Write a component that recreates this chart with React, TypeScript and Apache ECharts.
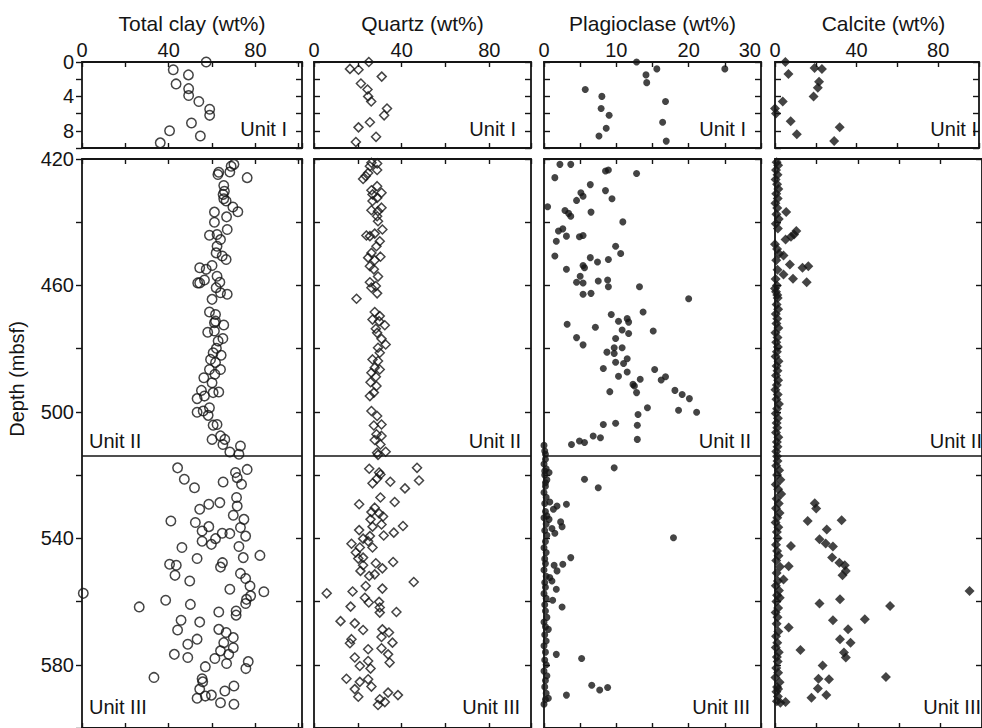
import React, { useEffect, useRef } from "react";
import * as echarts from "echarts";

// ---------- DATA: [wt%, depth (mbsf)] ----------
const clayUnitI: number[][] = [
  [57.3, 0.0], [42.1, 0.9], [49.1, 1.5], [43.4, 2.55], [49.2, 3.1], [49.2, 3.9], [53.9, 4.6],
  [58.9, 5.5], [58.9, 6.2], [50.5, 7.1], [40.4, 8.0], [54.6, 8.6], [36.1, 9.4],
];
const clayUnitII: number[][] = [
  [70.1, 421.7], [68.8, 422.3], [63.1, 424.2], [62.7, 424.9], [68.2, 424.1], [76.2, 425.9], [65.4, 428.4],
  [65.7, 430.2], [65.1, 431.2], [65.4, 432.6], [66.5, 433.3], [69.6, 435.2], [71.9, 436.7], [61.1, 436.8],
  [66.7, 438.3], [61.1, 440.0], [67.0, 442.3], [58.8, 444.1], [62.3, 443.9], [63.9, 445.5], [62.3, 447.6],
  [61.9, 449.7], [64.7, 450.7], [66.5, 451.8], [54.3, 454.4], [57.3, 454.9], [60.0, 453.7], [56.5, 458.3],
  [53.4, 459.2], [54.3, 459.2], [62.3, 457.1], [63.6, 459.0], [61.9, 460.7], [63.9, 462.3], [67.0, 462.8],
  [60.0, 464.4], [58.8, 468.4], [61.6, 469.2], [61.6, 471.3], [65.4, 472.5], [61.1, 471.8], [58.0, 474.8],
  [61.1, 474.4], [65.0, 476.8], [62.8, 477.6], [62.0, 479.9], [60.5, 481.3], [64.2, 482.1], [59.3, 483.4],
  [61.6, 484.4], [63.9, 486.6], [58.8, 486.6], [56.2, 489.2], [61.3, 488.1], [60.0, 490.8], [63.1, 493.7],
  [55.1, 493.2], [53.1, 495.8], [56.5, 495.0], [60.5, 493.9], [53.1, 500.1], [55.9, 499.7], [58.8, 498.7],
  [58.2, 501.1], [60.5, 504.2], [62.3, 504.0], [60.0, 508.7], [63.9, 507.6], [65.9, 508.7], [65.0, 510.3],
  [73.1, 510.8], [68.2, 512.7], [72.4, 513.4],
];
const clayUnitIII: number[][] = [
  [44.1, 517.7], [47.2, 521.3], [51.9, 524.0], [65.1, 522.2], [70.8, 519.2], [71.6, 520.8], [73.6, 522.9],
  [76.2, 518.2], [71.3, 527.1], [71.6, 529.8], [63.6, 528.7], [58.5, 529.2], [54.3, 530.8], [41.0, 534.5],
  [52.3, 535.0], [58.5, 536.3], [55.4, 537.7], [69.8, 532.7], [74.7, 534.0], [73.1, 536.6], [64.7, 538.4],
  [68.2, 538.5], [75.5, 539.3], [61.6, 540.1], [55.4, 540.9], [59.7, 541.9], [46.1, 542.9], [72.4, 542.6],
  [82.1, 545.4], [74.4, 546.1], [53.1, 546.4], [40.4, 548.2], [43.5, 548.5], [42.9, 551.7], [64.8, 547.7],
  [63.9, 549.1], [49.7, 553.5], [73.1, 551.1], [75.5, 552.7], [77.5, 555.1], [68.2, 556.1], [0.6, 557.4],
  [83.9, 556.9], [77.8, 558.2], [75.9, 559.3], [75.5, 560.6], [26.4, 561.7], [38.6, 559.6], [50.0, 560.9],
  [63.1, 563.3], [71.1, 563.0], [71.1, 564.3], [45.7, 565.9], [44.1, 569.0], [54.3, 566.5], [63.1, 568.8],
  [66.5, 569.8], [69.8, 571.4], [53.1, 571.9], [48.8, 573.5], [65.4, 573.0], [42.6, 576.7], [48.8, 577.7],
  [63.9, 575.6], [69.8, 574.6], [67.7, 576.7], [61.3, 578.0], [66.7, 579.6], [56.9, 580.6], [76.7, 579.0],
  [75.6, 581.2], [33.2, 584.0], [55.4, 584.4], [55.7, 585.4], [65.9, 588.3], [70.1, 586.7], [54.3, 587.7],
  [53.1, 590.6], [56.9, 589.9], [59.7, 589.6], [63.9, 592.0], [70.1, 592.5],
];

const quartzUnitI: number[][] = [
  [25.0, 0.0], [16.4, 0.8], [20.3, 0.9], [30.9, 1.7], [21.4, 2.5], [24.4, 3.2], [24.7, 4.0],
  [26.1, 4.6], [33.3, 5.4], [32.0, 6.2], [25.5, 7.0], [20.3, 7.6], [28.3, 8.7], [19.1, 9.3],
];
const quartzUnitII: number[][] = [
  [26.2, 421.2], [28.8, 421.4], [25.5, 422.3], [28.8, 423.5], [24.7, 424.4], [23.6, 425.4], [22.4, 426.3],
  [28.8, 428.6], [26.2, 429.9], [30.8, 430.7], [26.7, 431.2], [28.8, 432.3], [26.7, 433.3], [30.8, 435.4],
  [26.2, 436.2], [29.2, 436.5], [28.8, 438.1], [29.2, 439.7], [31.2, 442.3], [23.9, 444.2], [25.5, 444.4],
  [27.7, 443.6], [30.0, 446.0], [28.5, 447.6], [26.2, 449.7], [24.7, 451.2], [30.3, 450.9], [27.7, 452.0],
  [25.5, 453.9], [27.3, 454.9], [29.2, 457.2], [25.5, 459.0], [28.2, 460.2], [26.2, 460.7], [28.8, 462.5],
  [19.4, 464.2], [27.7, 468.4], [30.0, 469.7], [26.7, 470.8], [29.7, 471.3], [32.3, 472.6], [28.2, 473.7],
  [28.8, 475.0], [30.8, 476.9], [32.7, 478.7], [29.2, 479.7], [30.0, 481.3], [26.7, 483.4], [29.2, 483.9],
  [27.7, 486.0], [30.0, 486.6], [26.2, 487.6], [28.2, 488.9], [25.8, 490.6], [28.5, 491.8], [25.5, 495.0],
  [27.3, 493.9], [26.2, 499.7], [28.8, 501.3], [30.8, 504.0], [27.3, 504.3], [28.5, 507.1], [30.8, 507.6],
  [27.7, 508.9], [30.3, 510.3], [32.7, 512.6], [28.8, 512.9], [29.2, 513.6],
];
const quartzUnitIII: number[][] = [
  [25.2, 518.0], [47.0, 517.7], [29.7, 519.2], [30.3, 519.8], [28.8, 521.1], [26.7, 522.6], [34.8, 522.1],
  [47.9, 521.7], [41.5, 524.2], [30.3, 527.1], [20.6, 529.2], [36.8, 528.5], [27.7, 530.3], [26.2, 531.7],
  [29.7, 532.1], [31.5, 533.1], [25.8, 534.0], [30.8, 535.6], [26.7, 536.3], [20.6, 537.4], [40.6, 536.1],
  [36.4, 538.2], [31.8, 539.1], [25.5, 539.3], [22.4, 540.1], [24.7, 540.9], [17.1, 541.7], [20.9, 542.9],
  [26.7, 542.9], [19.1, 544.5], [22.4, 546.1], [20.2, 546.4], [28.2, 547.9], [36.1, 547.5], [22.4, 548.5],
  [31.2, 549.5], [21.2, 550.3], [27.7, 551.4], [25.2, 551.9], [45.5, 553.8], [23.6, 555.1], [31.2, 555.9],
  [17.6, 556.8], [5.8, 557.4], [23.2, 558.8], [25.0, 560.3], [29.7, 560.1], [30.0, 561.9], [16.7, 561.6],
  [37.6, 563.3], [30.0, 563.5], [12.1, 566.2], [18.6, 566.9], [22.4, 569.0], [31.2, 568.8], [34.2, 569.8],
  [30.8, 571.2], [35.8, 573.0], [17.1, 571.9], [16.4, 573.2], [24.7, 575.1], [30.8, 574.8], [33.8, 576.7],
  [18.6, 577.7], [24.7, 578.8], [34.5, 579.3], [20.9, 580.4], [25.8, 581.2], [14.8, 584.4], [20.9, 585.4],
  [24.7, 584.6], [26.2, 586.9], [18.6, 587.7], [20.2, 590.1], [33.8, 588.8], [38.3, 589.6], [30.0, 590.9],
  [32.3, 591.8], [29.2, 592.7],
];

const plagUnitI: number[][] = [
  [12.8, 0.0], [15.6, 0.8], [25.0, 0.8], [14.1, 1.5], [14.2, 2.4], [5.7, 3.2], [8.0, 4.0],
  [16.8, 4.6], [7.9, 5.4], [9.0, 6.2], [16.4, 7.0], [8.6, 7.7], [7.6, 8.6], [16.9, 9.2],
];
const plagUnitII: number[][] = [
  [2.2, 421.7], [3.7, 421.7], [1.5, 425.9], [8.5, 423.8], [8.9, 423.5], [12.8, 424.6], [6.4, 428.1],
  [5.1, 430.7], [5.4, 431.8], [4.5, 433.1], [8.5, 430.0], [9.4, 432.6], [0.5, 435.1], [2.9, 436.3],
  [3.4, 437.2], [3.7, 438.1], [6.5, 436.8], [10.9, 439.9], [2.6, 442.1], [2.0, 442.8], [3.1, 444.4],
  [1.7, 446.0], [4.9, 444.6], [5.4, 444.2], [9.9, 447.6], [10.6, 449.9], [1.5, 450.7], [6.4, 451.2],
  [7.4, 452.6], [8.9, 451.8], [5.4, 453.7], [5.6, 454.4], [3.1, 454.9], [5.0, 457.1], [4.5, 459.0],
  [5.4, 459.2], [7.5, 458.6], [8.8, 458.3], [8.9, 460.4], [13.2, 460.4], [5.4, 462.8], [6.5, 462.5],
  [20.0, 464.2], [9.3, 469.2], [13.7, 468.4], [3.2, 472.3], [7.1, 473.2], [10.3, 471.3], [11.5, 470.5],
  [11.7, 471.6], [10.8, 474.1], [11.7, 475.2], [15.1, 474.4], [4.5, 476.5], [5.4, 478.8], [9.9, 476.8],
  [9.7, 479.7], [8.7, 481.1], [10.8, 479.7], [9.7, 481.5], [11.5, 483.2], [11.0, 484.7], [8.2, 486.3],
  [9.9, 484.3], [15.3, 486.6], [11.5, 487.4], [10.3, 488.7], [13.3, 489.7], [12.3, 491.3], [12.5, 491.8],
  [16.2, 489.9], [16.8, 488.9], [9.1, 493.6], [12.8, 493.9], [18.1, 493.2], [19.1, 494.5], [20.1, 495.8],
  [14.3, 498.7], [18.6, 499.5], [21.1, 500.1], [13.0, 500.8], [8.2, 504.0], [9.9, 503.6], [12.9, 504.2],
  [3.8, 510.3], [4.9, 509.2], [5.6, 509.7], [6.8, 507.6], [7.8, 508.2], [12.9, 508.7], [0.0, 510.6],
  [0.1, 512.4], [0.2, 513.4],
];
const plagUnitIII: number[][] = [
  [9.7, 517.7], [5.6, 521.3], [7.5, 524.0], [0.7, 519.2], [0.1, 518.7], [0.2, 522.4], [0.8, 528.5],
  [1.8, 529.8], [3.1, 529.2], [1.3, 530.8], [0.4, 532.9], [0.7, 534.0], [2.3, 534.8], [2.5, 536.3],
  [1.1, 536.9], [1.5, 538.4], [17.9, 539.8], [3.7, 546.1], [2.6, 548.2], [1.4, 548.5], [1.8, 550.3],
  [0.8, 552.4], [1.1, 553.5], [1.7, 556.1], [1.2, 559.6], [2.5, 561.7], [0.6, 568.8], [1.7, 576.7],
  [5.2, 578.0], [6.6, 586.5], [7.7, 588.0], [8.8, 587.2], [3.1, 589.6], [0.6, 590.6],
  [0.2, 515.0], [0.0, 516.5], [0.3, 518.0], [0.1, 520.0], [0.4, 521.5], [0.2, 523.5], [0.0, 525.5],
  [0.3, 527.0], [0.1, 529.0], [0.2, 531.5], [0.0, 533.5], [0.3, 535.5], [0.1, 537.5], [0.4, 539.0],
  [0.2, 541.0], [0.0, 543.0], [0.3, 544.5], [0.1, 546.5], [0.2, 548.0], [0.0, 550.0], [0.3, 552.0],
  [0.1, 554.0], [0.2, 555.5], [0.0, 557.5], [0.3, 559.0], [0.1, 561.0], [0.2, 563.0], [0.4, 565.0],
  [0.0, 566.5], [0.2, 568.0], [0.1, 570.5], [0.3, 572.5], [0.0, 574.0], [0.2, 576.0], [0.1, 578.5],
  [0.3, 580.0], [0.0, 582.0], [0.4, 583.5], [0.2, 585.0], [0.1, 587.0], [0.3, 589.0], [0.2, 591.0],
  [0.0, 592.5],
];

const calciteUnitI: number[][] = [
  [5.1, 0.0], [6.6, 1.4], [19.4, 0.7], [23.0, 0.8], [21.6, 2.3], [21.0, 3.0], [18.9, 4.0],
  [3.8, 4.6], [0.0, 5.4], [0.5, 6.0], [7.7, 6.9], [10.7, 8.4], [31.7, 7.6], [29.0, 9.2],
];
const calciteUnitII: number[][] = [
  [5.4, 436.8], [10.3, 442.8], [9.2, 443.9], [7.7, 444.6], [5.1, 445.5], [4.1, 450.5], [7.2, 453.4],
  [13.3, 454.4], [16.1, 453.9], [4.1, 456.5], [8.7, 457.9], [15.3, 459.0], [0.0, 461.0], [1.1, 463.0],
  [0.8, 421.0], [1.5, 422.0], [0.5, 423.5], [1.2, 425.0], [0.3, 426.5], [1.0, 428.0], [1.6, 429.5],
  [0.6, 431.0], [1.3, 432.5], [0.2, 434.0], [1.1, 435.5], [0.7, 437.5], [1.8, 439.0], [0.4, 440.5],
  [1.4, 442.0], [0.0, 447.0], [1.0, 448.5], [2.0, 450.0], [0.6, 452.0], [1.2, 455.0], [0.3, 458.0],
  [0.9, 460.0], [0.5, 462.0], [1.3, 464.0], [0.8, 466.0], [1.5, 467.5], [0.4, 469.0], [1.1, 470.5],
  [0.7, 472.0], [1.6, 473.5], [0.2, 475.0], [1.2, 476.5], [0.6, 478.0], [1.4, 479.5], [0.9, 481.0],
  [0.3, 482.5], [1.7, 484.0], [0.8, 485.5], [1.2, 487.0], [0.5, 488.5], [1.5, 490.0], [0.9, 491.5],
  [0.2, 493.0], [1.3, 494.5], [0.7, 496.0], [1.9, 497.5], [1.0, 499.0], [0.4, 500.5], [1.4, 502.0],
  [0.8, 503.5], [1.1, 505.0], [0.5, 506.5], [1.6, 508.0], [0.9, 509.5], [1.2, 511.0], [0.6, 512.5],
  [1.0, 514.0],
];
const calciteUnitIII: number[][] = [
  [19.2, 528.9], [19.9, 530.6], [15.8, 534.5], [32.2, 534.3], [25.0, 537.2], [21.5, 540.3], [24.5, 541.6],
  [28.0, 542.6], [7.7, 542.4], [27.6, 546.1], [31.1, 547.7], [33.7, 548.5], [34.2, 550.3], [32.6, 551.7],
  [6.6, 548.8], [4.1, 553.0], [21.5, 560.6], [31.4, 559.3], [2.3, 558.8], [55.6, 561.4], [43.4, 565.6],
  [28.0, 565.9], [35.3, 568.8], [6.6, 568.2], [31.4, 571.9], [36.5, 573.0], [33.3, 576.1], [34.2, 577.7],
  [12.3, 575.3], [94.0, 556.7], [23.0, 580.2], [21.0, 584.4], [26.1, 584.6], [20.7, 587.5], [24.8, 589.6],
  [17.6, 590.4], [53.6, 583.9], [5.1, 591.8], [2.6, 592.0], [1.5, 587.7],
  [1.2, 515.5], [0.6, 517.0], [2.0, 518.5], [1.0, 520.0], [2.6, 521.5], [0.4, 523.0], [1.5, 524.5],
  [3.0, 526.0], [0.8, 527.5], [1.8, 529.0], [0.5, 530.5], [2.2, 532.0], [1.1, 533.5], [0.3, 535.0],
  [1.6, 536.5], [0.9, 538.0], [1.3, 540.0], [0.5, 542.0], [1.0, 544.0], [1.7, 545.5], [0.6, 547.0],
  [2.4, 549.0], [0.8, 551.0], [1.4, 553.5], [0.4, 555.0], [1.9, 556.5], [1.0, 558.0], [0.7, 560.0],
  [1.5, 562.0], [0.3, 563.5], [1.2, 565.0], [0.8, 567.0], [1.6, 569.5], [0.5, 571.0], [1.1, 573.0],
  [0.4, 574.5], [1.8, 576.0], [0.9, 577.5], [1.3, 579.0], [0.6, 581.0], [1.5, 582.5], [0.2, 584.0],
  [2.2, 585.5], [1.0, 587.0], [0.7, 588.5], [1.4, 590.0], [0.9, 591.5],
];

const columnTitles = ["Total clay (wt%)", "Quartz (wt%)", "Plagioclase (wt%)", "Calcite (wt%)"];
const unitIIBoundaryDepth = 514;
const unitILabel = "Unit I";
const unitIILabel = "Unit II";
const unitIIILabel = "Unit III";
const depthTitle = "Depth (mbsf)";

// ---------- LAYOUT / STYLE ----------
const FONT = '"Liberation Sans", Arial, Helvetica, sans-serif';
const INK = "#151515";
const TOP_Y = 62;
const TOP_H = 86;
const BOT_Y = 159;
const BOT_H = 569;

const columns = [
  { title: columnTitles[0], left: 82, width: 220, max: 101.5, tick: 20, label: 40, alignMax: false, symbol: "circle", hollow: true, size: 9.5, top: clayUnitI, bottom: [...clayUnitII, ...clayUnitIII] },
  { title: columnTitles[1], left: 314, width: 217, max: 99, tick: 20, label: 40, alignMax: false, symbol: "diamond", hollow: true, size: 9, top: quartzUnitI, bottom: [...quartzUnitII, ...quartzUnitIII] },
  { title: columnTitles[2], left: 544, width: 217, max: 30, tick: 5, label: 10, alignMax: true, symbol: "circle", hollow: false, size: 7, top: plagUnitI, bottom: [...plagUnitII, ...plagUnitIII] },
  { title: columnTitles[3], left: 775, width: 217, max: 100, tick: 20, label: 40, alignMax: false, symbol: "diamond", hollow: false, size: 10, top: calciteUnitI, bottom: [...calciteUnitII, ...calciteUnitIII] },
];

function textEl(text: string, x: number, y: number, align: string, size = 20, rotation = 0) {
  return {
    type: "text",
    x,
    y,
    rotation,
    silent: true,
    style: {
      text,
      fill: INK,
      fontSize: size,
      fontFamily: FONT,
      align,
      verticalAlign: "middle",
      textAlign: align,
      textVerticalAlign: "middle",
    },
  };
}

function buildOption() {
  const grid: any[] = [];
  const xAxis: any[] = [];
  const yAxis: any[] = [];
  const series: any[] = [];
  const graphic: any[] = [];
  const line = { color: INK, width: 1.8 };
  const tickLine = { color: INK, width: 1.4 };

  columns.forEach((c, ci) => {
    [0, 1].forEach((row) => {
      const gi = grid.length;
      grid.push({ left: c.left, top: row === 0 ? TOP_Y : BOT_Y, width: c.width, height: row === 0 ? TOP_H : BOT_H });
      const xBase = {
        gridIndex: gi, type: "value", min: 0, max: c.max, interval: c.tick,
        splitLine: { show: false },
        axisLine: { show: true, onZero: false, lineStyle: line },
        axisTick: { show: true, inside: true, length: 5, lineStyle: tickLine },
      };
      const xLabel: any = {
        show: row === 0, margin: 2, fontSize: 20, fontFamily: FONT, color: INK,
        formatter: (v: number) => (Math.abs(v % c.label) < 1e-6 ? String(v) : ""),
      };
      if (c.alignMax) xLabel.alignMaxLabel = "right";
      xAxis.push({ ...xBase, position: "top", axisLabel: xLabel });
      xAxis.push({ ...xBase, position: "bottom", axisLabel: { show: false } });

      const yMin = row === 0 ? 0 : 420;
      const yMax = row === 0 ? 10 : 600;
      const yInt = row === 0 ? 2 : 20;
      const yLab = row === 0 ? 4 : 40;
      const yBase = {
        gridIndex: gi, type: "value", inverse: true, min: yMin, max: yMax, interval: yInt,
        splitLine: { show: false },
        axisLine: { show: true, onZero: false, lineStyle: line },
      };
      yAxis.push({
        ...yBase, position: "left",
        axisTick: { show: true, inside: ci !== 0, length: 6, lineStyle: tickLine },
        axisLabel: {
          show: ci === 0, margin: 8, fontSize: 20, fontFamily: FONT, color: INK,
          formatter: (v: number) => ((v - yMin) % yLab === 0 && v < yMax ? String(v) : ""),
        },
      });
      yAxis.push({
        ...yBase, position: "right",
        axisTick: { show: true, inside: true, length: 6, lineStyle: tickLine },
        axisLabel: { show: false },
      });

      const s: any = {
        type: "scatter",
        xAxisIndex: 2 * gi,
        yAxisIndex: 2 * gi,
        data: row === 0 ? c.top : c.bottom,
        symbol: c.symbol,
        symbolSize: c.size,
        clip: false,
        silent: true,
        itemStyle: c.hollow
          ? { color: "rgba(255,255,255,0)", borderColor: INK, borderWidth: 1.5 }
          : { color: INK },
      };
      if (row === 1) {
        s.markLine = {
          silent: true,
          symbol: ["none", "none"],
          label: { show: false },
          lineStyle: { color: INK, width: 1.6, type: "solid" },
          data: [{ yAxis: unitIIBoundaryDepth }],
        };
      }
      series.push(s);
    });

    // texts
    const right = c.left + c.width;
    graphic.push(textEl(c.title, c.left + c.width / 2, 23, "center", 21));
    graphic.push(textEl(unitILabel, right - 15, 129, "right"));
    if (ci === 0) {
      graphic.push(textEl(unitIILabel, c.left + 7, 441, "left"));
      graphic.push(textEl(unitIIILabel, c.left + 7, 707, "left"));
    } else {
      graphic.push(textEl(unitIILabel, right - 10, 441, "right"));
      graphic.push(textEl(unitIIILabel, right - 11, 707, "right"));
    }
  });

  graphic.push(textEl(depthTitle, 17, 379, "center", 20, Math.PI / 2));

  return {
    animation: false,
    backgroundColor: "#ffffff",
    textStyle: { fontFamily: FONT },
    grid,
    xAxis,
    yAxis,
    series,
    graphic,
  };
}

export default function App() {
  const ref = useRef<HTMLDivElement>(null);
  useEffect(() => {
    if (!ref.current) return;
    const chart = echarts.init(ref.current, undefined, { renderer: "svg" });
    chart.setOption(buildOption() as any);
    return () => chart.dispose();
  }, []);
  return (
    <div
      ref={ref}
      style={{ position: "absolute", left: 0, top: 0, width: 982, height: 728, background: "#fff" }}
    />
  );
}
